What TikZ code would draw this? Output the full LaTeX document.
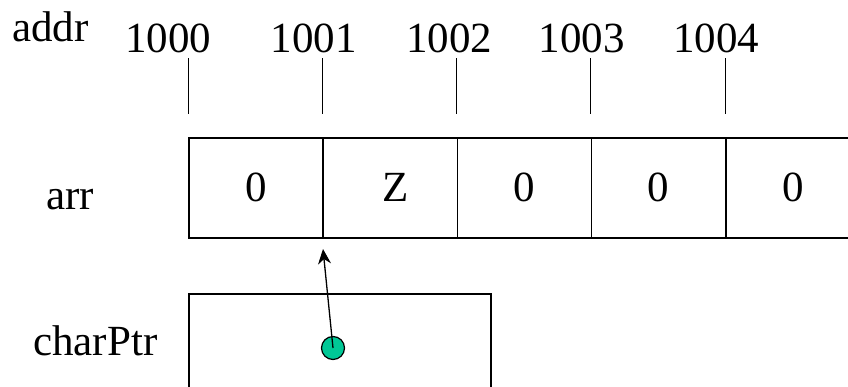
\documentclass[tikz,border=0pt]{standalone}
\usepackage{fontspec}
\setmainfont{Liberation Serif}
\usetikzlibrary{arrows.meta}
\definecolor{dotgreen}{RGB}{0,200,150}
\begin{document}
\begin{tikzpicture}[x=1pt,y=-1pt,
  lbl/.style={inner sep=0pt, anchor=base west, font=\fontsize{43}{43}\selectfont},
  num/.style={inner sep=0pt, anchor=base, font=\fontsize{43}{43}\selectfont},
  cell/.style={draw, line width=1.6pt, minimum width=134.25pt, minimum height=100pt,
               inner sep=0pt, anchor=north west, font=\fontsize{43}{43}\selectfont},
  tick/.style={line width=1pt},
  ptr/.style={draw, line width=1.6pt, minimum width=302pt, minimum height=130pt,
              inner sep=0pt, anchor=north west},
  dotnode/.style={circle, draw, line width=1.2pt, fill=dotgreen, minimum size=23pt, inner sep=0pt},
  link/.style={line width=1.3pt, -{Stealth[length=15pt,width=13pt]}}]
\useasboundingbox (0,0) rectangle (848,387);
\clip (0,0) rectangle (848,387);

% labels
\node[lbl] (addr) at (12,42) {addr};
\node[lbl] (arr) at (46,210) {arr};
\node[lbl] (charptr) at (33,355) {charPtr};

% addresses
\node[num] (a0) at (168,53) {1000};
\node[num] (a1) at (313.5,53) {1001};
\node[num] (a2) at (449,53) {1002};
\node[num] (a3) at (581.5,53) {1003};
\node[num] (a4) at (716,53) {1004};

% array cells
\node[cell] (c1) at (188,137) {0};
\node[cell] (c2) at (322.25,137) {\hspace{10pt}Z};
\node[cell] (c3) at (456.5,137) {0};
\node[cell] (c4) at (590.75,137) {0};
\node[cell] (c5) at (725,137) {0};

% ticks
\foreach \c in {c1,c2,c3,c4,c5}
  \draw[tick] ([yshift=23pt]\c.north west) -- ([yshift=79pt]\c.north west);

% pointer box
\node[ptr] (pbox) at (188,293) {};
\node[dotnode] (dot) at (333,348) {};
\coordinate (tip) at (323,249);
\draw[link] (dot.center) -- (tip);
\end{tikzpicture}
\end{document}
